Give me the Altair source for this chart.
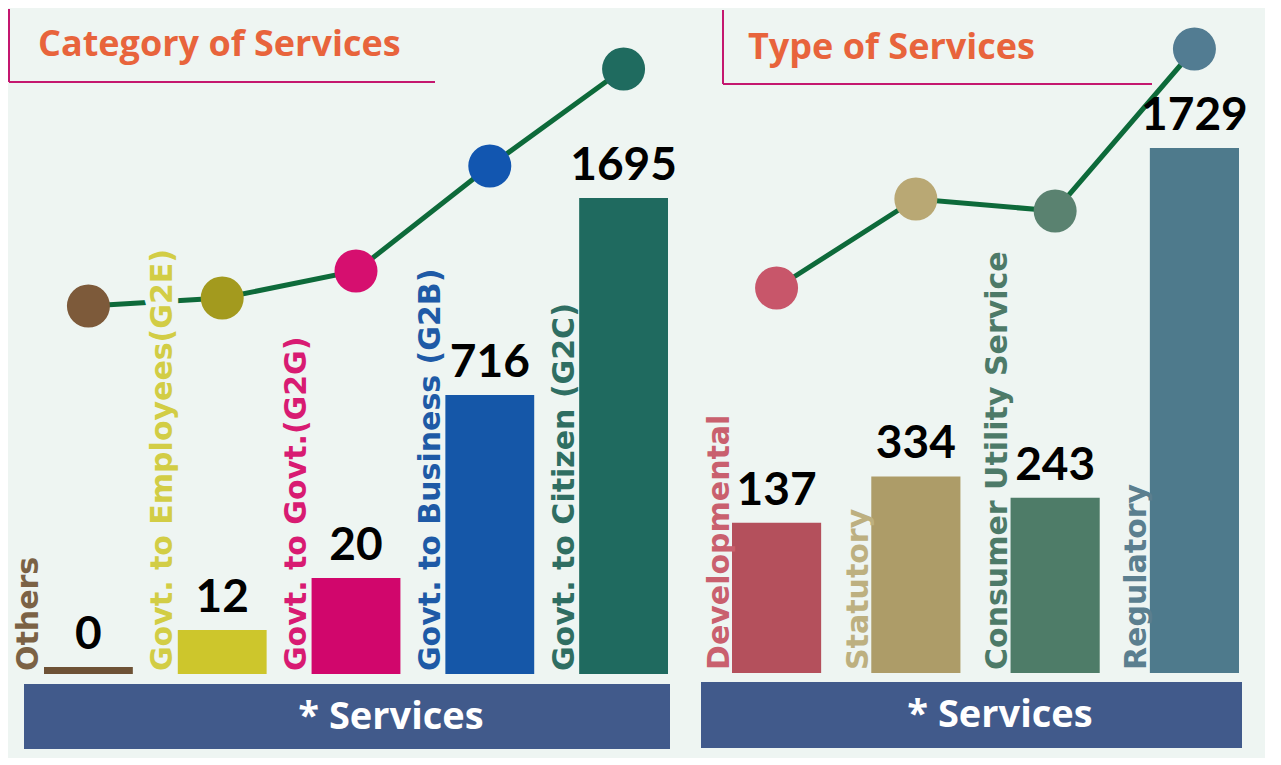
import altair as alt
import pandas as pd

# ---------------- data ----------------
cat_keys = ["Others", "G2E", "G2G", "G2B", "G2C"]
cat_labels = ["Others", "Govt. to Employees(G2E)", "Govt. to Govt.(G2G)",
              "Govt. to Business (G2B)", "Govt. to Citizen (G2C)"]
cat_values = [0, 12, 20, 716, 1695]

type_keys = ["Developmental", "Statutory", "Consumer", "Regulatory"]
type_labels = ["Developmental", "Statutory", "Consumer Utility Service", "Regulatory"]
type_values = [137, 334, 243, 1729]

# ---------------- styles ----------------
BG = "#eef5f2"
TITLE_COLOR = "#e8643c"
FRAME_COLOR = "#c4176f"
LINE_COLOR = "#0d6a3a"
BAND_COLOR = "#415a8b"

cat_bar_colors = ["#6e5236", "#cdc62c", "#d1066c", "#1557a8", "#1f6a5f"]
cat_label_colors = ["#7b6245", "#d2cd45", "#d81b72", "#1e5aa6", "#2f6e62"]
cat_dot_colors = ["#7d5a3a", "#a39a1e", "#d60f6f", "#1256b0", "#1f6b5f"]

type_bar_colors = ["#b4505c", "#ad9c68", "#4e7c68", "#4e7a8c"]
type_label_colors = ["#c9606e", "#bdb080", "#4d7a68", "#5b7f8f"]
type_dot_colors = ["#c8566a", "#b9a874", "#5a8270", "#527c92"]

H = 749
LABEL_FONT = "DejaVu Sans"
LABEL_SIZE = 30
NUM_FONT = "Lato"


def panel(keys, labels, values, bar_colors, label_colors, dot_colors,
          x_range, pad_inner, bar_scale, dot_scale, base_px, label_dy,
          title, title_xy, frame, band, band_text_x, width):
    df = pd.DataFrame({
        "key": keys, "label": labels, "value": values,
        "bar_color": bar_colors, "label_color": label_colors,
        "dot_color": dot_colors, "idx": list(range(len(keys))),
    })
    base = alt.Chart(df)
    x = alt.X("key:N", sort=keys,
              scale=alt.Scale(domain=keys, range=x_range,
                              paddingInner=pad_inner, paddingOuter=0),
              axis=None)
    y_bar = alt.Y("value:Q", scale=alt.Scale(**bar_scale), axis=None,
                  stack=None)
    y_dot = alt.Y("value:Q", scale=alt.Scale(**dot_scale), axis=None)

    one = alt.Chart(pd.DataFrame({"t": [title], "b": ["* Services"]}))

    frame_v = one.mark_rule(color=FRAME_COLOR, strokeWidth=2).encode(
        x=alt.value(frame[0]), y=alt.value(frame[1]), y2=alt.value(frame[2]))
    frame_h = one.mark_rule(color=FRAME_COLOR, strokeWidth=2).encode(
        x=alt.value(frame[0]), x2=alt.value(frame[3]), y=alt.value(frame[2]))
    title_t = one.mark_text(font="Open Sans", fontSize=36, fontWeight="bold",
                            color=TITLE_COLOR, align="left",
                            baseline="alphabetic").encode(
        x=alt.value(title_xy[0]), y=alt.value(title_xy[1]), text="t:N")

    line = base.mark_line(color=LINE_COLOR, strokeWidth=5).encode(
        x=x, y=y_dot, order=alt.Order("idx:Q"))
    halo = base.mark_text(font=LABEL_FONT, fontSize=LABEL_SIZE,
                          fontWeight="bold", angle=270, align="left",
                          baseline="middle", dy=label_dy, fill=BG, stroke=BG,
                          strokeWidth=12).encode(
        x=x, y=alt.value(base_px - 3), text="label:N")
    bars = base.mark_bar().encode(
        x=x, y=y_bar, y2=alt.value(base_px),
        color=alt.Color("bar_color:N", scale=None))
    dots = base.mark_point(filled=True, opacity=1, size=1850,
                           shape="circle").encode(
        x=x, y=y_dot, color=alt.Color("dot_color:N", scale=None))
    names = base.mark_text(font=LABEL_FONT, fontSize=LABEL_SIZE,
                           fontWeight="bold", angle=270, align="left",
                           baseline="middle", dy=label_dy).encode(
        x=x, y=alt.value(base_px - 3), text="label:N",
        color=alt.Color("label_color:N", scale=None))
    nums = base.mark_text(font=NUM_FONT, fontSize=46, fontWeight="bold",
                          color="#000000", baseline="bottom", dy=-8).encode(
        x=x, y=y_bar, text="value:Q")
    band_r = one.mark_rect(color=BAND_COLOR).encode(
        x=alt.value(band[0]), x2=alt.value(band[1]),
        y=alt.value(band[2]), y2=alt.value(band[3]))
    band_t = one.mark_text(font="Open Sans", fontSize=38, fontWeight="bold",
                           color="#ffffff", baseline="middle").encode(
        x=alt.value(band_text_x), y=alt.value((band[2] + band[3]) / 2 + 1),
        text="b:N")

    return alt.layer(frame_v, frame_h, title_t, line, halo, bars, dots,
                     names, nums, band_r, band_t).resolve_scale(
        y="independent").properties(width=width, height=H)


left = panel(
    cat_keys, cat_labels, cat_values, cat_bar_colors, cat_label_colors,
    cat_dot_colors,
    x_range=[36, 660], pad_inner=0.336,
    bar_scale=dict(domain=[0, 12, 20, 716, 1695],
                   range=[658, 621, 569, 386, 189]),
    dot_scale=dict(domain=[0, 12, 20, 716, 1695],
                   range=[297, 289, 262, 157, 60]),
    base_px=665, label_dy=-59,
    title="Category of Services", title_xy=(30, 47),
    frame=(1, 0, 73, 427), band=(16, 662, 675, 740), band_text_x=383,
    width=680)

right = panel(
    type_keys, type_labels, type_values, type_bar_colors, type_label_colors,
    type_dot_colors,
    x_range=[32, 539], pad_inner=0.36,
    bar_scale=dict(domain=[0, 1729], range=[546, 139]),
    dot_scale=dict(domain=[137, 243, 334, 1729],
                   range=[279, 202, 190, 40]),
    base_px=664, label_dy=-57,
    title="Type of Services", title_xy=(48, 50),
    frame=(23, 1, 75, 452), band=(1, 542, 673, 739), band_text_x=300,
    width=565)

chart = alt.hconcat(left, right, spacing=12).properties(
    padding=0, background=BG
).configure_view(stroke=None)

chart.save("out.html", embed_options={"renderer": "svg", "actions": False})
